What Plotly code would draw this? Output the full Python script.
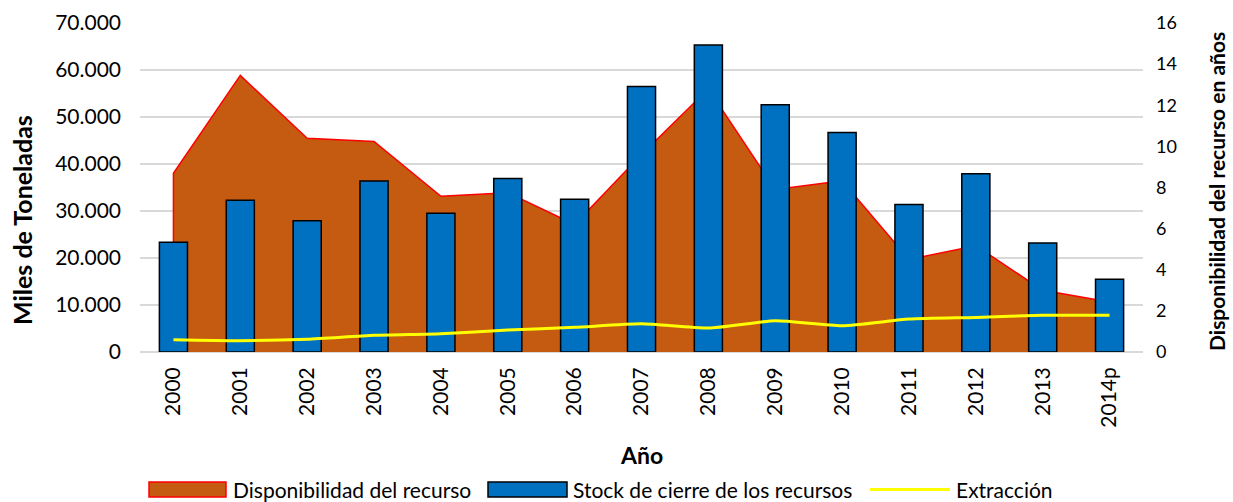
import plotly.graph_objects as go

years = ["2000", "2001", "2002", "2003", "2004", "2005", "2006", "2007",
         "2008", "2009", "2010", "2011", "2012", "2013", "2014p"]
stock = [23350, 32300, 27950, 36400, 29500, 36900, 32500, 56500,
         65300, 52600, 46700, 31400, 37900, 23200, 15500]
disponibilidad = [8.69, 13.45, 10.39, 10.24, 7.57, 7.75, 6.2, 9.6,
                  12.8, 7.9, 8.33, 4.5, 5.17, 3.0, 2.43]
extraccion = [2600, 2400, 2700, 3540, 3900, 4670, 5240, 6000,
              5100, 6650, 5600, 7000, 7360, 7800, 7800]

FONT = "Lato"
W, H = 1233, 502
L, R, T, B = 140, 90, 23, 150
PW, PH = W - L - R, H - T - B

AREA_FILL = "#C55A11"
AREA_LINE = "#FF0000"
BAR_FILL = "#0070C0"
LINE_COL = "#FFFF00"


def px_x(x):
    return (x - L) / PW


def px_y(y):
    return (H - B - y) / PH


fig = go.Figure()

# Area (right axis) -> primary 'y' placed on the right, drawn beneath
fig.add_trace(go.Scatter(
    x=[years[0]] + years, y=[0] + disponibilidad,
    name="Disponibilidad del recurso",
    mode="lines", fill="tozeroy", fillcolor=AREA_FILL,
    line=dict(color=AREA_LINE, width=1.5),
    yaxis="y", showlegend=False,
))

fig.add_trace(go.Bar(
    x=years, y=stock, name="Stock de cierre de los recursos",
    marker=dict(color=BAR_FILL, line=dict(color="#000000", width=1.5)),
    width=0.42, yaxis="y2", showlegend=False,
))

fig.add_trace(go.Scatter(
    x=years, y=extraccion, name="Extracción",
    mode="lines", line=dict(color=LINE_COL, width=3, shape="spline", smoothing=0.6),
    yaxis="y2", showlegend=False,
))

# Legend (drawn as in the original: wide swatches)
shapes = []
annotations = []
leg_y = 489
legend_items = [
    ("Disponibilidad del recurso", "area", 149, 226, 232),
    ("Stock de cierre de los recursos", "bar", 488, 567, 572),
    ("Extracción", "line", 870, 950, 955),
]
for text, kind, x0, x1, tx in legend_items:
    if kind == "area":
        shapes.append(dict(type="rect", xref="paper", yref="paper",
                           x0=px_x(x0), x1=px_x(x1), y0=px_y(leg_y + 8), y1=px_y(leg_y - 7),
                           fillcolor=AREA_FILL, line=dict(color=AREA_LINE, width=1.5)))
    elif kind == "bar":
        shapes.append(dict(type="rect", xref="paper", yref="paper",
                           x0=px_x(x0), x1=px_x(x1), y0=px_y(leg_y + 8), y1=px_y(leg_y - 7),
                           fillcolor=BAR_FILL, line=dict(color="#000000", width=1.5)))
    else:
        shapes.append(dict(type="line", xref="paper", yref="paper",
                           x0=px_x(x0), x1=px_x(x1), y0=px_y(leg_y + 0.5), y1=px_y(leg_y + 0.5),
                           line=dict(color=LINE_COL, width=3)))
    annotations.append(dict(text=text, xref="paper", yref="paper",
                            x=px_x(tx), y=px_y(leg_y), xanchor="left", yanchor="middle",
                            showarrow=False, borderpad=0, font=dict(size=21)))

# Axis titles
annotations.append(dict(text="<b>Miles de Toneladas</b>", xref="paper", yref="paper",
                        x=px_x(22), y=px_y(220), textangle=-90, showarrow=False,
                        xanchor="center", yanchor="middle", font=dict(size=25)))
annotations.append(dict(text="<b>Disponibilidad del recurso en años</b>", xref="paper", yref="paper",
                        x=px_x(1217), y=px_y(192), textangle=-90, showarrow=False,
                        xanchor="center", yanchor="middle", font=dict(size=21)))
annotations.append(dict(text="<b>Año</b>", xref="paper", yref="paper",
                        x=px_x(641), y=px_y(455), showarrow=False,
                        xanchor="center", yanchor="middle", font=dict(size=23)))

fig.update_layout(
    width=W, height=H,
    margin=dict(l=L, r=R, t=T, b=B, autoexpand=False),
    paper_bgcolor="white", plot_bgcolor="white",
    separators=",.",
    font=dict(family=FONT, size=21, color="#000000"),
    showlegend=False,
    xaxis=dict(
        type="category", tickangle=-90, showgrid=False, automargin=False,
        tickfont=dict(size=21), ticks="", ticklabelstandoff=10,
        showline=False,
        range=[-0.5, len(years) - 0.5],
    ),
    yaxis=dict(
        side="right", range=[0, 16], dtick=2, showgrid=False, automargin=False,
        zeroline=False, tickfont=dict(size=18), ticks="", ticklabelstandoff=12,
    ),
    yaxis2=dict(
        side="left", overlaying="y", range=[0, 70000], dtick=10000, automargin=False,
        tickformat=",d", showgrid=True, gridcolor="#D9D9D9", gridwidth=1.5,
        zeroline=True, zerolinecolor="#D9D9D9", zerolinewidth=1.5,
        tickfont=dict(size=21), ticks="", ticklabelstandoff=18,
    ),
    shapes=shapes,
    annotations=annotations,
)

fig.write_html(
    "out.html",
    config={"displayModeBar": False},
    post_script="document.body.style.margin='0';document.body.style.overflow='hidden';",
)
